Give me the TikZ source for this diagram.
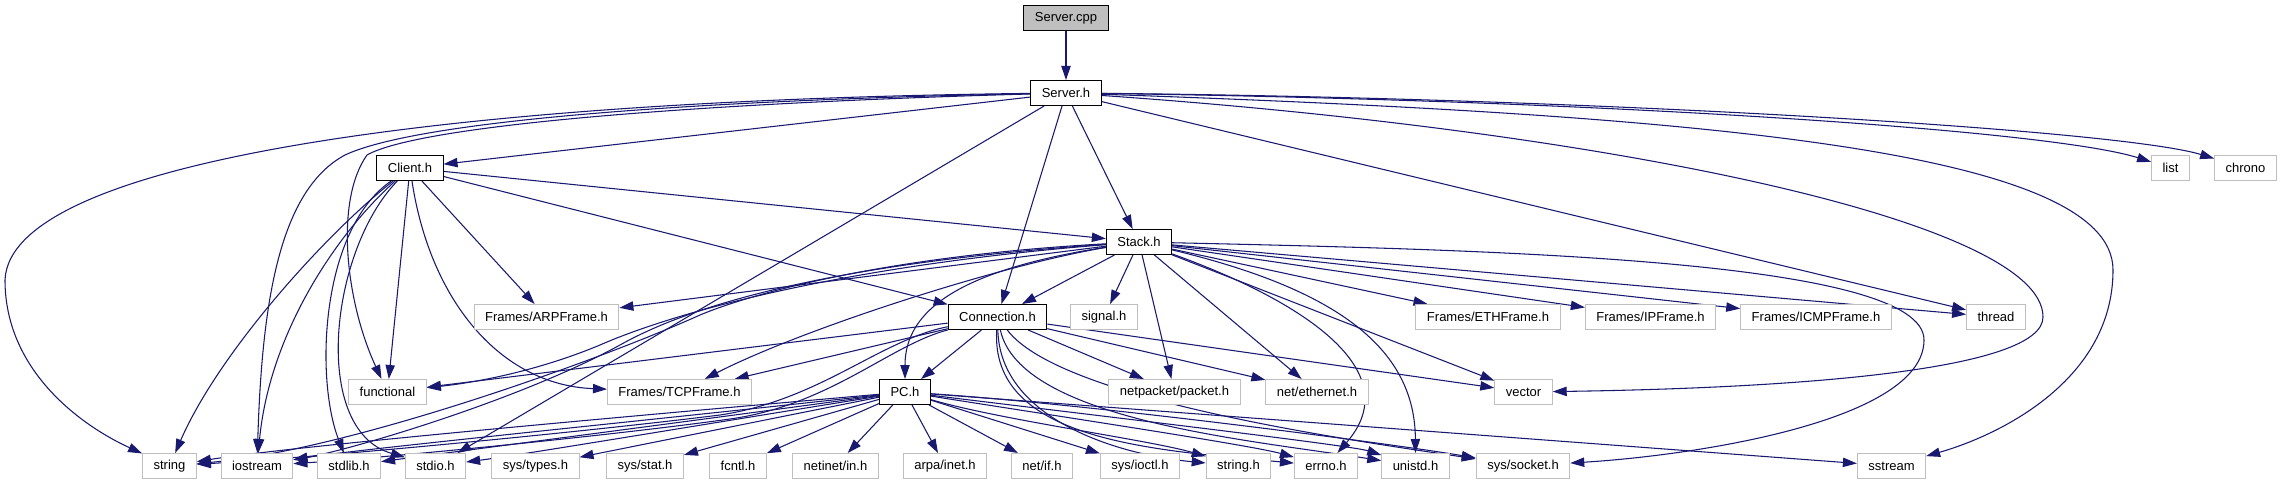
\documentclass[tikz,border=0pt]{standalone}
\usepackage{fontspec}
\setmainfont{Liberation Sans}
\usetikzlibrary{arrows.meta}
\definecolor{edgecol}{HTML}{191970}
\definecolor{boxgray}{HTML}{BFBFBF}
\pgfdeclarelayer{bg}
\pgfsetlayers{bg,main}
\begin{document}
\begin{tikzpicture}[x=0.75pt,y=-0.75pt,
  base/.style={rectangle, minimum height=18.75pt, inner xsep=8.25pt, inner ysep=0pt,
    font=\fontsize{9.75}{11}\selectfont, line width=0.75pt, fill=white},
  proj/.style={base, draw=black},
  ext/.style={base, draw=boxgray},
  root/.style={base, draw=black, fill=boxgray},
  e/.style={draw=edgecol, line width=0.8pt, -{Triangle[length=10.5pt,width=7pt]}}
]
\useasboundingbox (0,0) rectangle (2281,485);
% rank 0-2
\node[root] (cpp) at (1066,18.5) {Server.cpp};
\node[proj] (serverh) at (1066,93) {Server.h};
\node[proj] (client) at (410,168) {Client.h};
\node[ext] (list) at (2170.5,168) {list};
\node[ext] (chrono) at (2245.5,168) {chrono};
% rank 3
\node[proj] (stack) at (1139,242) {Stack.h};
% rank 4
\node[proj] (conn) at (997.5,317) {Connection.h};
\node[ext] (arp) at (546.5,317) {Frames/ARPFrame.h};
\node[ext] (signal) at (1104,317) {signal.h};
\node[ext] (eth) at (1488,317) {Frames/ETHFrame.h};
\node[ext] (ipf) at (1650.5,317) {Frames/IPFrame.h};
\node[ext] (icmp) at (1816,317) {Frames/ICMPFrame.h};
\node[ext] (thread) at (1996,317) {thread};
% rank 5
\node[ext] (functional) at (387.5,392) {functional};
\node[ext] (tcp) at (679.5,392) {Frames/TCPFrame.h};
\node[proj] (pc) at (905,392) {PC.h};
\node[ext] (netpacket) at (1174.5,392) {netpacket/packet.h};
\node[ext] (neteth) at (1317,392) {net/ethernet.h};
\node[ext] (vector) at (1523.5,392) {vector};
% rank 6
\node[ext] (string) at (169.5,466) {string};
\node[ext] (iostream) at (257,466) {iostream};
\node[ext] (stdlib) at (349,466) {stdlib.h};
\node[ext] (stdio) at (435.5,466) {stdio.h};
\node[ext] (systypes) at (535.5,466) {sys/types.h};
\node[ext] (sysstat) at (645,466) {sys/stat.h};
\node[ext] (fcntl) at (738,466) {fcntl.h};
\node[ext] (netinet) at (835.5,466) {netinet/in.h};
\node[ext] (arpa) at (945,466) {arpa/inet.h};
\node[ext] (netif) at (1042,466) {net/if.h};
\node[ext] (sysioctl) at (1140,466) {sys/ioctl.h};
\node[ext] (stringh) at (1238.5,466) {string.h};
\node[ext] (errno) at (1326,466) {errno.h};
\node[ext] (unistd) at (1415.5,466) {unistd.h};
\node[ext] (syssocket) at (1523,466) {sys/socket.h};
\node[ext] (sstream) at (1891.5,466) {sstream};

\begin{pgfonlayer}{bg}
% Server.cpp
\draw[e] (cpp) -- (serverh);
% Server.h
\draw[e] (serverh) -- (client);
\draw[e] (serverh) -- (stack);
\draw[e] (serverh) -- (conn);
\draw[e] (serverh) -- (stdio);
\draw[e] (serverh) .. controls (450,100) and (10,160) .. (5,280) .. controls (5,370) and (80,425) .. (string);
\draw[e] (serverh) .. controls (700,100) and (420,120) .. (345,155) .. controls (280,190) and (262,300) .. (iostream);
\draw[e] (serverh) .. controls (700,103) and (420,125) .. (367,155) .. controls (335,200) and (345,300) .. (functional);
\draw[e] (serverh) -- (thread);
\draw[e] (serverh) .. controls (1600,130) and (2043,220) .. (2043,317) .. controls (2043,370) and (1800,388) .. (vector);
\draw[e] (serverh) .. controls (1700,115) and (2113,150) .. (2113,270) .. controls (2113,380) and (2000,435) .. (sstream);
\draw[e] (serverh) .. controls (1600,100) and (2050,130) .. (list);
\draw[e] (serverh) .. controls (1600,98) and (2120,130) .. (chrono);
% Client.h
\draw[e] (client) -- (stack);
\draw[e] (client) -- (conn);
\draw[e] (client) -- (arp);
\draw[e] (client) .. controls (430,300) and (500,385) .. (tcp);
\draw[e] (client) -- (functional);
\draw[e] (client) .. controls (330,230) and (220,350) .. (string);
\draw[e] (client) .. controls (340,230) and (270,330) .. (iostream);
\draw[e] (client) .. controls (320,230) and (315,380) .. (stdlib);
\draw[e] (client) .. controls (330,250) and (310,430) .. (stdio);
% Stack.h
\draw[e] (stack) -- (conn);
\draw[e] (stack) .. controls (960,270) and (905,310) .. (pc);
\draw[e] (stack) -- (signal);
\draw[e] (stack) -- (netpacket);
\draw[e] (stack) -- (neteth);
\draw[e] (stack) .. controls (1300,300) and (1410,370) .. (errno);
\draw[e] (stack) .. controls (1340,290) and (1415,350) .. (unistd);
\draw[e] (stack) -- (vector);
\draw[e] (stack) -- (eth);
\draw[e] (stack) -- (ipf);
\draw[e] (stack) -- (icmp);
\draw[e] (stack) -- (thread);
\draw[e] (stack) .. controls (1500,250) and (1924,260) .. (1924,340) .. controls (1924,420) and (1700,455) .. (syssocket);
\draw[e] (stack) -- (arp);
\draw[e] (stack) .. controls (850,265) and (680,310) .. (600,345) .. controls (540,370) and (480,382) .. (functional);
\draw[e] (stack) .. controls (1000,265) and (800,330) .. (tcp);
\draw[e] (stack) .. controls (850,262) and (700,300) .. (620,345) .. controls (520,400) and (350,450) .. (iostream);
\draw[e] (stack) .. controls (900,255) and (760,290) .. (700,315) .. controls (600,360) and (350,450) .. (string);
% Connection.h
\draw[e] (conn) -- (pc);
\draw[e] (conn) -- (functional);
\draw[e] (conn) -- (tcp);
\draw[e] (conn) -- (netpacket);
\draw[e] (conn) -- (neteth);
\draw[e] (conn) -- (vector);
\draw[e] (conn) .. controls (880,340) and (820,400) .. (720,415) .. controls (600,430) and (350,455) .. (string);
\draw[e] (conn) .. controls (890,345) and (830,405) .. (730,419) .. controls (600,437) and (380,458) .. (iostream);
\draw[e] (conn) .. controls (1000,420) and (1120,455) .. (stringh);
\draw[e] (conn) .. controls (990,440) and (1150,450) .. (errno);
\draw[e] (conn) .. controls (1020,420) and (1250,440) .. (unistd);
\draw[e] (conn) .. controls (1060,400) and (1350,440) .. (syssocket);
% PC.h
\draw[e] (pc) .. controls (700,410) and (300,445) .. (string);
\draw[e] (pc) .. controls (700,415) and (350,450) .. (iostream);
\draw[e] (pc) .. controls (700,420) and (430,455) .. (stdlib);
\draw[e] (pc) .. controls (700,425) and (520,455) .. (stdio);
\draw[e] (pc) -- (systypes);
\draw[e] (pc) -- (sysstat);
\draw[e] (pc) -- (fcntl);
\draw[e] (pc) -- (netinet);
\draw[e] (pc) -- (arpa);
\draw[e] (pc) -- (netif);
\draw[e] (pc) -- (sysioctl);
\draw[e] (pc) .. controls (1000,420) and (1150,440) .. (stringh);
\draw[e] (pc) .. controls (1050,415) and (1250,445) .. (errno);
\draw[e] (pc) .. controls (1050,410) and (1350,445) .. (unistd);
\draw[e] (pc) .. controls (1100,405) and (1400,445) .. (syssocket);
\draw[e] (pc) -- (sstream);
\end{pgfonlayer}
\end{tikzpicture}
\end{document}
